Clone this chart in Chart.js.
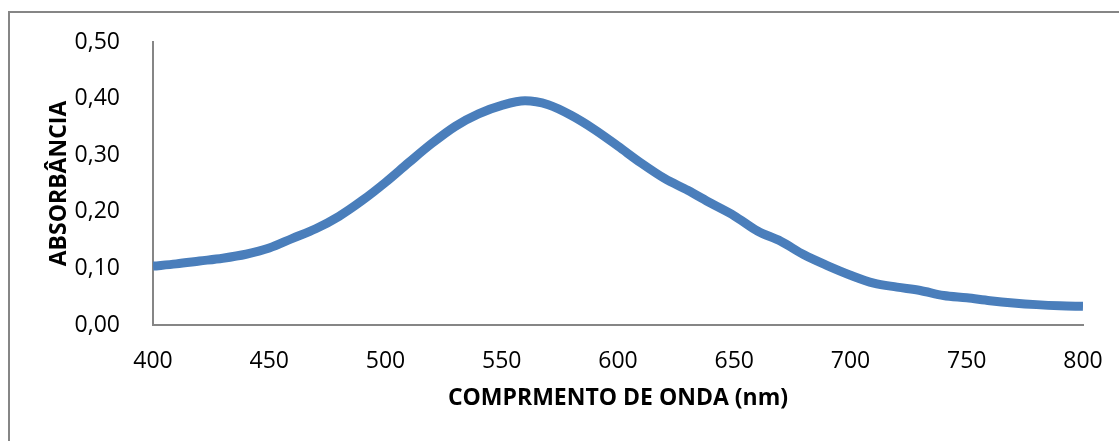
<!DOCTYPE html>
<html>
<head>
<meta charset="utf-8">
<script src="https://cdn.jsdelivr.net/npm/chart.js@4"></script>
<style>
  body { margin: 0; background: #fff; }
</style>
</head>
<body>
<canvas id="chart1" width="1119" height="441"></canvas>
<script>
// comprimento de onda (nm) e absorbância
const wavelengths = [400, 410, 420, 430, 440, 450, 460, 470, 480, 490,
                     500, 510, 520, 530, 540, 550, 560, 570, 580, 590,
                     600, 610, 620, 630, 640, 650, 660, 670, 680, 690,
                     700, 710, 720, 730, 740, 750, 760, 770, 780, 790, 800];
const absorbance = [0.104, 0.108, 0.113, 0.118, 0.125, 0.136, 0.153, 0.170, 0.192, 0.220,
                    0.252, 0.287, 0.321, 0.351, 0.373, 0.388, 0.396, 0.389, 0.370, 0.345,
                    0.316, 0.286, 0.259, 0.238, 0.215, 0.193, 0.166, 0.148, 0.124, 0.105,
                    0.088, 0.074, 0.067, 0.061, 0.052, 0.048, 0.043, 0.039, 0.036, 0.034, 0.033];
const xTicks = [400, 450, 500, 550, 600, 650, 700, 750, 800];
const yTicks = [0, 0.1, 0.2, 0.3, 0.4, 0.5];

const frame = {
    id: 'frame',
    beforeDraw(chart) {
        const c = chart.ctx;
        c.save();
        c.strokeStyle = '#868686';
        c.lineWidth = 2;
        c.beginPath();
        c.moveTo(9, 460);
        c.lineTo(9, 12);
        c.lineTo(1130, 12);
        c.stroke();
        c.restore();
    }
};

const ctx1 = document.getElementById('chart1').getContext('2d');
const chart1 = new Chart(ctx1, {
    type: 'line',
    data: {
        labels: wavelengths,
        datasets: [{
            data: wavelengths.map((w, i) => ({ x: w, y: absorbance[i] })),
            borderColor: '#4a7ebb',
            borderWidth: 9,
            pointRadius: 0,
            cubicInterpolationMode: 'monotone'
        }]
    },
    options: {
        responsive: false,
        animation: false,
        layout: { padding: { top: 42, right: 36, left: 0, bottom: 0 } },
        plugins: {
            legend: { display: false },
            tooltip: { enabled: false }
        },
        scales: {
            x: {
                type: 'linear',
                min: 400,
                max: 800,
                afterBuildTicks: s => { s.ticks = xTicks.map(v => ({ value: v })); },
                afterFit: s => { s.height = 116; },
                grid: { display: false },
                border: { color: '#868686', width: 2 },
                ticks: {
                    color: '#000',
                    padding: 15,
                    maxRotation: 0,
                    font: { family: 'Open Sans', size: 23 }
                },
                title: {
                    display: true,
                    text: 'COMPRMENTO DE ONDA (nm)',
                    color: '#000',
                    padding: { bottom: 29 },
                    font: { family: 'Open Sans', size: 23, weight: 'bold' }
                }
            },
            y: {
                min: 0,
                max: 0.5,
                afterBuildTicks: s => { s.ticks = yTicks.map(v => ({ value: v })); },
                afterFit: s => { s.width = 153; },
                grid: { display: false },
                border: { color: '#868686', width: 2 },
                ticks: {
                    color: '#000',
                    padding: 25,
                    font: { family: 'Open Sans', size: 23 },
                    callback: v => v.toFixed(2).replace('.', ',')
                },
                title: {
                    display: true,
                    text: 'ABSORBÂNCIA',
                    color: '#000',
                    padding: { top: 46 },
                    font: { family: 'Open Sans', size: 23, weight: 'bold' }
                }
            }
        }
    },
    plugins: [frame]
});
</script>
</body>
</html>
